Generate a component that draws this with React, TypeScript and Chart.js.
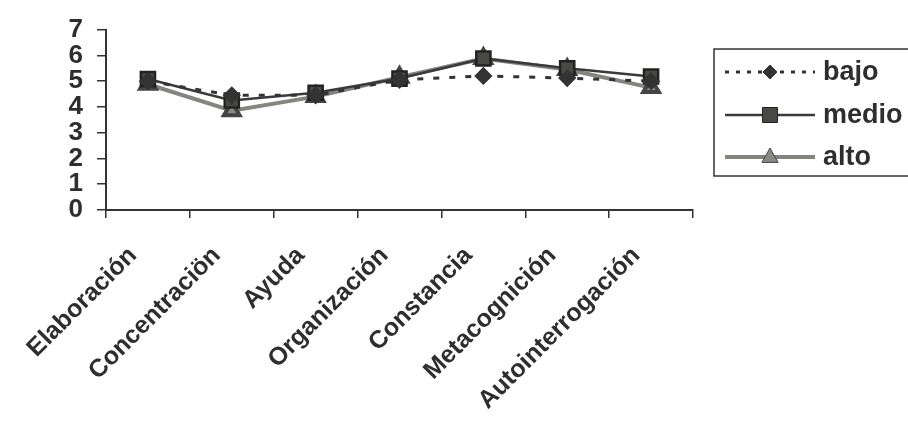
import React, { useEffect, useRef } from "react";
import { Chart, registerables } from "chart.js";
Chart.register(...registerables);

const categories = [
  "Elaboración",
  "Concentraciön",
  "Ayuda",
  "Organización",
  "Constancia",
  "Metacognición",
  "Autointerrogación",
];
const seriesNames = ["bajo", "medio", "alto"];
const bajo = [5.0, 4.45, 4.45, 5.05, 5.2, 5.12, 5.0];
const medio = [5.08, 4.25, 4.55, 5.1, 5.88, 5.5, 5.18];
const alto = [4.88, 3.85, 4.4, 5.15, 5.88, 5.45, 4.75];
const yMin = 0;
const yMax = 7;

const FONT = "'Liberation Sans', Arial, sans-serif";

const legendPlugin = {
  id: "boxLegend",
  afterDraw(chart: any) {
    const ctx = chart.ctx;
    ctx.save();
    const bx = 714, by = 49, bw = 210, bh = 127;
    ctx.strokeStyle = "#333";
    ctx.lineWidth = 1.5;
    ctx.strokeRect(bx, by, bw, bh);
    const rows = [72, 115, 157];
    chart.data.datasets.forEach((ds: any, i: number) => {
      const y = rows[i];
      ctx.save();
      ctx.strokeStyle = ds.borderColor;
      ctx.lineWidth = ds.borderWidth;
      ctx.setLineDash(ds.borderDash ? [4, 7] : []);
      ctx.beginPath();
      ctx.moveTo(725, y);
      ctx.lineTo(815, y);
      ctx.stroke();
      ctx.setLineDash([]);
      const cx = 770, r = ds.pointRadius;
      ctx.fillStyle = ds.pointBackgroundColor;
      ctx.strokeStyle = ds.pointBorderColor;
      ctx.lineWidth = 1;
      ctx.beginPath();
      if (ds.pointStyle === "rectRot") {
        ctx.moveTo(cx, y - r);
        ctx.lineTo(cx + r, y);
        ctx.lineTo(cx, y + r);
        ctx.lineTo(cx - r, y);
        ctx.closePath();
      } else if (ds.pointStyle === "rect") {
        const h = r * 0.75;
        ctx.rect(cx - h, y - h, 2 * h, 2 * h);
      } else {
        ctx.moveTo(cx, y - r);
        ctx.lineTo(cx + r * 0.9, y + r * 0.6);
        ctx.lineTo(cx - r * 0.9, y + r * 0.6);
        ctx.closePath();
      }
      ctx.fill();
      ctx.stroke();
      ctx.restore();
      ctx.fillStyle = "#2e2e2e";
      ctx.font = `bold 27px ${FONT}`;
      ctx.textBaseline = "middle";
      ctx.textAlign = "left";
      ctx.fillText(seriesNames[i], 823, y + 1);
    });
    ctx.restore();
  },
};

export default function App() {
  const ref = useRef<HTMLCanvasElement | null>(null);
  useEffect(() => {
    document.body.style.margin = "0";
    document.body.style.background = "#fff";
    const chart = new Chart(ref.current as HTMLCanvasElement, {
      type: "line",
      data: {
        labels: categories,
        datasets: [
          {
            label: seriesNames[0],
            data: bajo,
            borderColor: "#333",
            borderWidth: 3,
            borderDash: [6, 10],
            pointStyle: "rectRot",
            pointRadius: 7,
            pointBackgroundColor: "#333",
            pointBorderColor: "#333",
          },
          {
            label: seriesNames[1],
            data: medio,
            borderColor: "#3a3a3a",
            borderWidth: 2.5,
            pointStyle: "rect",
            pointRadius: 10,
            pointBackgroundColor: "#4a4a44",
            pointBorderColor: "#222",
          },
          {
            label: seriesNames[2],
            data: alto,
            borderColor: "#858580",
            borderWidth: 4,
            pointStyle: "triangle",
            pointRadius: 9,
            pointBackgroundColor: "#8a8a82",
            pointBorderColor: "#444",
          },
        ] as any,
      },
      options: {
        animation: false,
        responsive: false,
        layout: { padding: { top: 23, right: 215, left: 0, bottom: 0 } },
        plugins: { legend: { display: false }, tooltip: { enabled: false } },
        scales: {
          x: {
            offset: true,
            grid: {
              display: true,
              offset: true,
              drawOnChartArea: false,
              drawTicks: true,
              tickLength: 8,
              color: "#333",
              lineWidth: 1.5,
            },
            border: { display: true, color: "#333", width: 2 },
            ticks: {
              color: "#2e2e2e",
              font: { family: FONT, size: 25, weight: "bold" },
              maxRotation: 45,
              minRotation: 45,
              autoSkip: false,
              padding: 23,
              labelOffset: -15,
            },
            afterFit(scale: any) {
              scale.height = 424 - 210;
            },
          },
          y: {
            min: yMin,
            max: yMax,
            ticks: {
              stepSize: 1,
              autoSkip: false,
              color: "#2e2e2e",
              font: { family: FONT, size: 26, weight: "bold" },
              padding: 14,
            },
            grid: {
              display: true,
              drawOnChartArea: false,
              drawTicks: true,
              tickLength: 9,
              color: "#333",
              lineWidth: 1.5,
            },
            border: { display: true, color: "#333", width: 2 },
            afterFit(scale: any) {
              scale.width = 106;
            },
          },
        },
      },
      plugins: [legendPlugin],
    });
    return () => chart.destroy();
  }, []);
  return (
    <div style={{ width: 908, height: 424, background: "#fff" }}>
      <canvas ref={ref} width={908} height={424} style={{ width: 908, height: 424 }} />
    </div>
  );
}
